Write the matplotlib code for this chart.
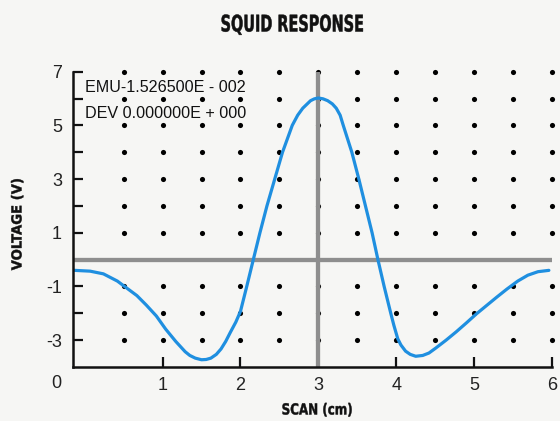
import matplotlib
matplotlib.use("Agg")
import matplotlib.pyplot as plt
import matplotlib.transforms as mtransforms
from matplotlib.patheffects import AbstractPathEffect

# ---- data ----
scan_cm = [-0.13, 0.07, 0.24, 0.42, 0.54, 0.67, 0.79, 0.92, 1.04, 1.17, 1.29, 1.35,
           1.42, 1.50, 1.56, 1.62, 1.69, 1.75, 1.81, 1.87, 1.94, 2.00, 2.085, 2.165,
           2.25, 2.34, 2.44, 2.54, 2.665, 2.735, 2.80, 2.90, 2.95, 3.00, 3.06, 3.12,
           3.18, 3.23, 3.28, 3.32, 3.43, 3.52, 3.605, 3.69, 3.765, 3.845, 3.93, 3.97,
           4.02, 4.06, 4.12, 4.18, 4.25, 4.34, 4.42, 4.51, 4.64, 4.77, 4.90, 5.03,
           5.16, 5.29, 5.42, 5.56, 5.69, 5.82, 5.96]
voltage = [-0.40, -0.43, -0.53, -0.80, -1.06, -1.34, -1.69, -2.10, -2.59, -3.05, -3.43, -3.57,
           -3.67, -3.73, -3.72, -3.67, -3.53, -3.33, -3.05, -2.71, -2.33, -1.93, -0.95, 0.00,
           1.00, 2.00, 3.00, 4.00, 5.00, 5.38, 5.64, 5.92, 5.99, 6.02, 5.99, 5.92,
           5.80, 5.64, 5.38, 5.00, 4.00, 3.00, 2.00, 1.00, 0.00, -1.00, -2.00, -2.45,
           -2.95, -3.18, -3.41, -3.53, -3.60, -3.57, -3.48, -3.29, -3.00, -2.69, -2.36, -2.02,
           -1.71, -1.40, -1.10, -0.80, -0.58, -0.45, -0.40]

dot_x = [0.5, 1.0, 1.5, 2.0, 2.5, 3.0, 3.5, 4.0, 4.5, 5.0, 5.5, 6.0]
dot_y = [7, 6, 5, 4, 3, 2, 1, -1, -2, -3]

x_ticks = [1, 2, 3, 4, 5, 6]
x_ticklabels = ["1", "2", "3", "4", "5", "6"]
y_major = [-3, -1, 1, 3, 5, 7]
y_major_labels = ["-3", "-1", "1", "3", "5", "7"]
y_minor = [-2, 2, 4, 6]

title = "SQUID RESPONSE"
xlabel = "SCAN (cm)"
ylabel = "VOLTAGE (V)"
note_lines = ["EMU-1.526500E - 002", "DEV 0.000000E + 000"]

# ---- styling ----
BG = "#f6f6f4"
BLUE = "#1f8fe0"
GRAY = "#8e8e8e"
SANS = ["Liberation Sans", "DejaVu Sans"]
BOLD = ["DejaVu Sans"]


class Squash(AbstractPathEffect):
    """Narrow a text run along its reading direction (condensed heavy lettering)."""

    def __init__(self, factor, vertical=False, stroke=0.0):
        super().__init__()
        self.factor = factor
        self.vertical = vertical
        self.stroke = stroke

    def draw_path(self, renderer, gc, tpath, affine, rgbFace=None):
        pts = affine.transform(tpath.vertices)
        if len(pts) == 0:
            return
        cx = (pts[:, 0].min() + pts[:, 0].max()) / 2
        cy = (pts[:, 1].min() + pts[:, 1].max()) / 2
        sx, sy = (1, self.factor) if self.vertical else (self.factor, 1)
        extra = mtransforms.Affine2D().translate(-cx, -cy).scale(sx, sy).translate(cx, cy)
        gc0 = renderer.new_gc()
        gc0.copy_properties(gc)
        if self.stroke > 0 and rgbFace is not None:
            gc0.set_linewidth(self.stroke)
            gc0.set_foreground(rgbFace)
            gc0.set_joinstyle("miter")
        renderer.draw_path(gc0, tpath, affine + extra, rgbFace)
        gc0.restore()


fig = plt.figure(figsize=(5.6, 4.21), dpi=100, facecolor=BG)
ax = fig.add_axes([73 / 560, 1 - 367 / 421, (552 - 73) / 560, (367 - 71.7) / 421])
ax.set_facecolor(BG)

xmin, xmax = -0.15, 6.0
ymin, ymax = -4.0, 7.0
ax.set_xlim(xmin, xmax)
ax.set_ylim(ymin, ymax)

# dot grid
gx = [x for x in dot_x for _ in dot_y]
gy = [y for _ in dot_x for y in dot_y]
ax.plot(gx, gy, linestyle="none", marker="o", markersize=3.7, color="black",
        markeredgewidth=0, zorder=1, clip_on=False)

# gray cross-hair lines
ax.plot([xmin, 6.0], [0, 0], color=GRAY, linewidth=3.1, zorder=2, solid_capstyle="butt")
ax.plot([3, 3], [ymin, ymax], color=GRAY, linewidth=3.1, zorder=2, solid_capstyle="butt",
        clip_on=False)

# response curve
ax.plot(scan_cm, voltage, color=BLUE, linewidth=2.3, zorder=3,
        solid_capstyle="round", solid_joinstyle="round")

# spines
for s in ["top", "right"]:
    ax.spines[s].set_visible(False)
for s in ["left", "bottom"]:
    ax.spines[s].set_linewidth(1.8)
    ax.spines[s].set_color("#111111")
    ax.spines[s].set_zorder(5)

# ticks
ax.set_xticks(x_ticks)
ax.set_xticklabels(x_ticklabels)
ax.set_yticks(y_major)
ax.set_yticklabels(y_major_labels)
ax.set_yticks(y_minor, minor=True)
ax.tick_params(axis="both", which="both", direction="in", length=7.5, width=1.6,
               color="#111111")
ax.tick_params(axis="x", pad=7, labelsize=13, labelcolor="#222222")
ax.tick_params(axis="y", pad=8, labelsize=13, labelcolor="#222222")
for lab in ax.get_xticklabels() + ax.get_yticklabels():
    lab.set_family(SANS)

# "0" at the corner
trans0 = mtransforms.offset_copy(ax.transAxes, fig=fig, x=-17, y=-16, units="dots")
ax.text(0, 0, "0", transform=trans0, ha="center", va="center", fontsize=13,
        family=SANS, color="#222222")

# annotation text
fig.text(85 / 560, 1 - 87 / 421, note_lines[0], ha="left", va="center",
         fontsize=11.6, family=SANS, color="#111111")
fig.text(85 / 560, 1 - 113 / 421, note_lines[1], ha="left", va="center",
         fontsize=11.6, family=SANS, color="#111111")

# title and labels (condensed heavy lettering)
fig.text(292.5 / 560, 1 - 25 / 421, title, ha="center", va="center", fontsize=16.5,
         fontweight="bold", family=BOLD, color="#111111",
         path_effects=[Squash(0.63, stroke=0.35)])
fig.text(317 / 560, 1 - 410 / 421, xlabel, ha="center", va="center", fontsize=11,
         fontweight="bold", family=BOLD, color="#111111",
         path_effects=[Squash(0.78, stroke=0.3)])
fig.text(17.5 / 560, 1 - 224 / 421, ylabel, ha="center", va="center", rotation=90,
         fontsize=10, fontweight="bold", family=BOLD, color="#111111",
         path_effects=[Squash(0.95, vertical=True, stroke=0.3)])

fig.savefig("out.png", dpi=100, facecolor=BG)
